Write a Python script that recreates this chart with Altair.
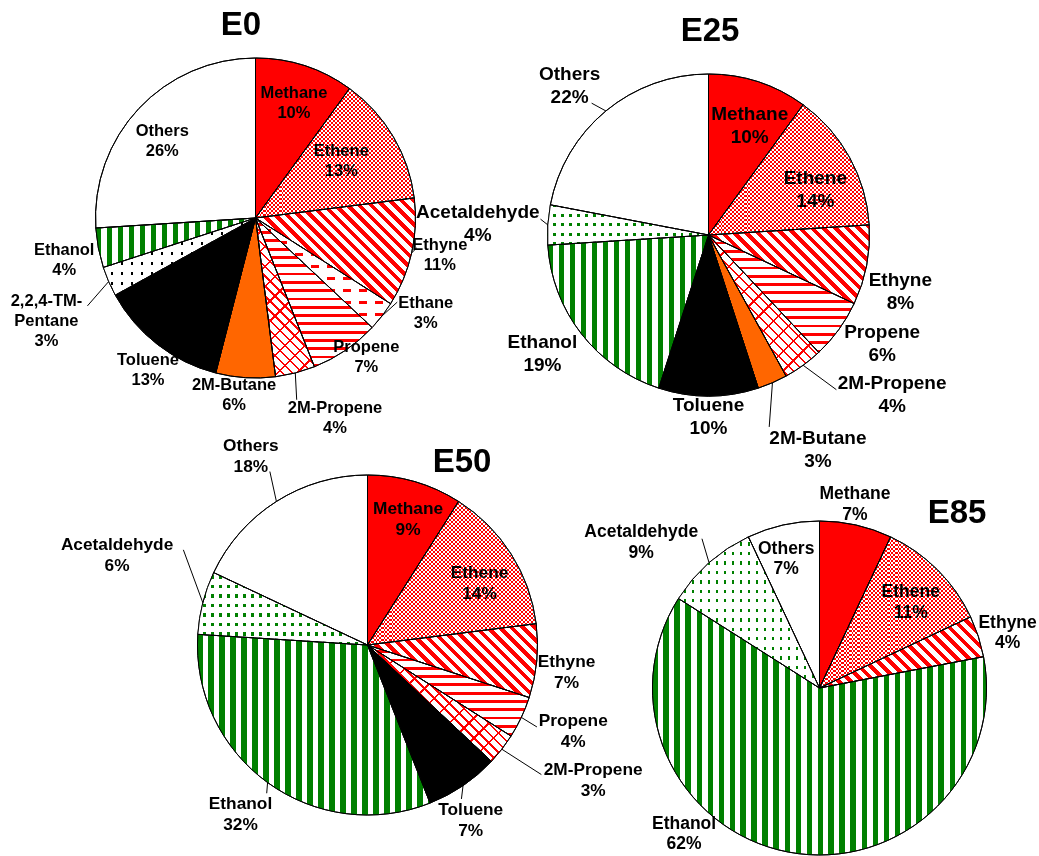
import math

import altair as alt
import pandas as pd

# ---------------------------------------------------------------- data
PIE_NAMES = ["E0", "E25", "E50", "E85"]

E0_SPECIES = ["Methane", "Ethene", "Ethyne", "Ethane", "Propene", "2M-Propene",
              "2M-Butane", "Toluene", "2,2,4-TM-Pentane", "Ethanol", "Others"]
E0_SHARES = [10, 13, 11, 3, 7, 4, 6, 13, 3, 4, 26]

E25_SPECIES = ["Methane", "Ethene", "Ethyne", "Propene", "2M-Propene", "2M-Butane",
               "Toluene", "Ethanol", "Acetaldehyde", "Others"]
E25_SHARES = [10, 14, 8, 6, 4, 3, 10, 19, 4, 22]

E50_SPECIES = ["Methane", "Ethene", "Ethyne", "Propene", "2M-Propene", "Toluene",
               "Ethanol", "Acetaldehyde", "Others"]
E50_SHARES = [9, 14, 7, 4, 3, 7, 32, 6, 18]

E85_SPECIES = ["Methane", "Ethene", "Ethyne", "Ethanol", "Acetaldehyde", "Others"]
E85_SHARES = [7, 11, 4, 62, 9, 7]

SERIES = {
    "E0": (E0_SPECIES, E0_SHARES),
    "E25": (E25_SPECIES, E25_SHARES),
    "E50": (E50_SPECIES, E50_SHARES),
    "E85": (E85_SPECIES, E85_SHARES),
}

# how a species name is broken over lines in its label
LABEL_NAME = {"2,2,4-TM-Pentane": "2,2,4-TM-\nPentane"}

# ---------------------------------------------------------------- layout
FONT = "Liberation Sans"
PIE_LAYOUT = {
    "E0": dict(cx=255.5, cy=218, r=160, font=16.5, line=20, tx=241, ty=35),
    "E25": dict(cx=708.5, cy=235, r=161, font=19, line=23, tx=710, ty=41),
    "E50": dict(cx=367.5, cy=645, r=170, font=17.3, line=21, tx=462, ty=472),
    "E85": dict(cx=819.5, cy=688, r=167, font=17.5, line=20.5, tx=957, ty=523),
}

# label distance from the pie centre (px) and angular nudge (deg) from the slice middle
LABEL_PLACE = {
    "E0": {"Methane": (121, 0.5), "Ethene": (103, -3), "Ethyne": (188, -1.3),
           "Ethane": (195, -8.6), "Propene": (178, -4.3), "2M-Propene": (215, -7.3),
           "2M-Butane": (178, 3.3), "Toluene": (186, -2.5),
           "2,2,4-TM-Pentane": (233, -2.8), "Ethanol": (196, -1.7), "Others": (121, -3.6)},
    "E25": {"Methane": (117, 2.6), "Ethene": (116, 5.9), "Ethyne": (200, 5.6),
            "Propene": (205, -3.9), "2M-Propene": (243, -13.1), "2M-Butane": (241, -3.6),
            "Toluene": (181, 0), "Ethanol": (204, 2.3), "Acetaldehyde": (231, -0.7),
            "Others": (204, -3.3)},
    "E50": {"Methane": (132, 1.7), "Ethene": (128, 3.5), "Ethyne": (201, 2.5),
            "Propene": (223, -2.5), "2M-Propene": (263, -6.9), "Toluene": (204, 3.8),
            "Ethanol": (212, 0.8), "Acetaldehyde": (266, 5.3), "Others": (222, 0.7)},
    "E85": {"Methane": (187, -1.7), "Ethene": (125, 1.9), "Ethyne": (196, 1.7),
            "Ethanol": (199, 32.1), "Acetaldehyde": (230, -9.4), "Others": (133, -1.9)},
}

# leader lines: from the rim at the slice middle to the label anchor plus this offset
LEADER_END = {
    ("E0", "Ethyne"): (-23, -7), ("E0", "Ethane"): (-28.5, -11),
    ("E0", "2,2,4-TM-Pentane"): (41, -15), ("E0", "2M-Propene"): (-38.3, -18),
    ("E25", "Others"): (22, 17.6), ("E25", "Acetaldehyde"): (62.7, -4.2),
    ("E25", "2M-Propene"): (-55.8, -4.4), ("E25", "2M-Butane"): (-48.7, -22.8),
    ("E50", "Others"): (19, 15.4), ("E50", "Acetaldehyde"): (66.3, -5.5),
    ("E50", "Propene"): (-36.3, -4.1), ("E50", "2M-Propene"): (-51.8, -5.5),
    ("E50", "Ethanol"): (26.2, -21.5), ("E50", "Toluene"): (-9.3, -22),
    ("E85", "Acetaldehyde"): (60.7, -3.9),
}

# ---------------------------------------------------------------- styles
RED = "#ff0000"
GREEN = "#008000"
ORANGE = "#ff6600"
WHITE = "#ffffff"
CLEAR = "rgba(255,255,255,0)"

ALL_SPECIES = ["Methane", "Ethene", "Ethyne", "Ethane", "Propene", "2M-Propene",
               "2M-Butane", "Toluene", "2,2,4-TM-Pentane", "Ethanol", "Acetaldehyde", "Others"]
BASE_FILL = {"Methane": RED, "2M-Butane": ORANGE, "Toluene": "#000000"}

# stripe layers laid over the white base: direction of the stripes, period (px),
# covered fraction of each period, colour and blend mode
PATTERNS = {
    "Ethene": [dict(dir=(1, 0), period=4, cover=0.5, color="#00ffff", blend="difference"),
               dict(dir=(0, 1), period=4, cover=0.5, color="#00ffff", blend="difference")],
    "Ethyne": [dict(dir=(1, 1), period=8.3, cover=0.48, color=RED)],
    "Ethane": [dict(dir=(1, 0), period=12, cover=0.22, color=RED),
               dict(dir=(0, 1), period=16, cover=0.5, color=WHITE)],
    "Propene": [dict(dir=(1, 0), period=8.3, cover=0.34, color=RED)],
    "2M-Propene": [dict(dir=(1, 1), period=7, cover=0.24, color=RED),
                   dict(dir=(1, -1), period=14, cover=0.12, color=RED)],
    "2,2,4-TM-Pentane": [dict(dir=(1, 0), period=10, cover=0.3, color="#000000"),
                         dict(dir=(0, 1), period=10, cover=0.76, color=WHITE)],
    "Ethanol": [dict(dir=(0, 1), period=11, cover=0.5, color=GREEN)],
    "Acetaldehyde": [dict(dir=(1, 0), period=9.5, cover=0.32, color=GREEN),
                     dict(dir=(0, 1), period=8, cover=0.68, color=WHITE)],
}


def sector_size(r, a0, a1):
    """Width and height of the bounding box of a pie sector (angles in degrees)."""
    angs = [a0, a1] + [k * 90 for k in range(5) if a0 < k * 90 < a1]
    pts = [(0.0, 0.0)] + [(r * math.sin(math.radians(a)), -r * math.cos(math.radians(a)))
                          for a in angs]
    xs = [p[0] for p in pts]
    ys = [p[1] for p in pts]
    return max(max(xs) - min(xs), 1.0), max(max(ys) - min(ys), 1.0)


def stripe_fill(w, h, layer):
    """Linear gradient with hard stops that paints parallel stripes in the item's box."""
    dx, dy = layer["dir"]
    gx, gy = dy / h, -dx / w
    n = math.hypot(gx, gy)
    gx, gy = gx / n, gy / n
    proj = [px * gx + py * gy for px, py in ((0, 0), (1, 0), (0, 1), (1, 1))]
    t0, t1 = min(proj), max(proj)
    length = (t1 - t0) / math.hypot(gx / w, gy / h)
    periods = length / layer["period"]
    color = layer["color"]
    stops = [(0.0, CLEAR)]
    k = 0
    while k < periods:
        o0 = k / periods
        o1 = min((k + layer["cover"]) / periods, 1.0)
        stops += [(o0, CLEAR), (o0, color), (o1, color), (o1, CLEAR)]
        k += 1
    stops.append((1.0, CLEAR))
    return alt.LinearGradient(
        gradient="linear",
        x1=round(gx * t0, 6), y1=round(gy * t0, 6),
        x2=round(gx * t1, 6), y2=round(gy * t1, 6),
        stops=[alt.GradientStop(offset=round(o, 6), color=c) for o, c in stops],
    )


# ---------------------------------------------------------------- table
rows = []
for pie in PIE_NAMES:
    names, shares = SERIES[pie]
    lay = PIE_LAYOUT[pie]
    for i, (name, share) in enumerate(zip(names, shares)):
        lab_r, lab_shift = LABEL_PLACE[pie][name]
        lead = LEADER_END.get((pie, name))
        text = f"{LABEL_NAME.get(name, name)}\n{share}%"
        rows.append(dict(
            pie=pie, name=name, share=share, order=i,
            label=text, lines=text.count("\n") + 1,
            cx=lay["cx"], cy=lay["cy"], r=lay["r"],
            lab_r=lab_r, lab_shift=lab_shift,
            leader=lead is not None,
            lead_dx=lead[0] if lead else 0, lead_dy=lead[1] if lead else 0,
        ))
df = pd.DataFrame(rows)

base = alt.Chart(df).transform_stack(
    stack="share", groupby=["pie"], as_=["v0", "v1"],
    sort=[alt.SortField("order", order="ascending")],
)

arc_enc = dict(
    x=alt.X("cx:Q", scale=None, axis=None),
    y=alt.Y("cy:Q", scale=None, axis=None),
    theta=alt.Theta("v0:Q", scale=alt.Scale(domain=[0, 100])),
    theta2="v1:Q",
    radius=alt.Radius("r:Q", scale=None),
)

layers = []

# plain slices
layers.append(base.mark_arc(stroke="black", strokeWidth=1).encode(
    fill=alt.Fill("name:N", legend=None, scale=alt.Scale(
        domain=ALL_SPECIES, range=[BASE_FILL.get(s, WHITE) for s in ALL_SPECIES])),
    **arc_enc,
))

# hatch and dot patterns, one gradient per slice
for pie in PIE_NAMES:
    names, shares = SERIES[pie]
    r = PIE_LAYOUT[pie]["r"]
    start = 0
    for name, share in zip(names, shares):
        a0, a1 = start * 3.6, (start + share) * 3.6
        start += share
        if name not in PATTERNS:
            continue
        w, h = sector_size(r, a0, a1)
        for layer in PATTERNS[name]:
            mark_kw = dict(fill=stripe_fill(w, h, layer), strokeWidth=0)
            if "blend" in layer:
                mark_kw["blend"] = layer["blend"]
            layers.append(
                base.transform_filter(f"datum.pie == '{pie}' && datum.name == '{name}'")
                .mark_arc(**mark_kw).encode(**arc_enc)
            )

# slice outlines on top of the patterns
layers.append(base.mark_arc(fill=WHITE, fillOpacity=0, stroke="black", strokeWidth=1)
              .encode(**arc_enc))

placed = base.transform_calculate(
    mid="(datum.v0 + datum.v1) / 2",
).transform_calculate(
    ang="(datum.mid * 3.6 + datum.lab_shift) * PI / 180",
    rim="datum.mid * 3.6 * PI / 180",
).transform_calculate(
    lx="datum.cx + datum.lab_r * sin(datum.ang)",
    ly="datum.cy - datum.lab_r * cos(datum.ang)",
    sx="datum.cx + datum.r * sin(datum.rim)",
    sy="datum.cy - datum.r * cos(datum.rim)",
)

# leader lines
layers.append(
    placed.transform_filter("datum.leader").transform_calculate(
        ex="datum.lx + datum.lead_dx", ey="datum.ly + datum.lead_dy",
    ).mark_rule(color="black", strokeWidth=1).encode(
        x=alt.X("sx:Q", scale=None, axis=None), y=alt.Y("sy:Q", scale=None, axis=None),
        x2="ex:Q", y2="ey:Q",
    )
)

# slice labels, one text style per pie; the first line is lifted so the block is centred
for pie in PIE_NAMES:
    lay = PIE_LAYOUT[pie]
    layers.append(
        placed.transform_filter(f"datum.pie == '{pie}'").transform_calculate(
            ty=f"datum.ly - (datum.lines - 1) * {lay['line']} / 2",
        ).mark_text(
            font=FONT, fontWeight="bold", fontSize=lay["font"], lineHeight=lay["line"],
            lineBreak="\n", align="center", baseline="middle", color="black",
        ).encode(
            x=alt.X("lx:Q", scale=None, axis=None), y=alt.Y("ty:Q", scale=None, axis=None),
            text="label:N",
        )
    )

# pie titles
titles = pd.DataFrame({
    "pie": PIE_NAMES,
    "tx": [PIE_LAYOUT[p]["tx"] for p in PIE_NAMES],
    "ty": [PIE_LAYOUT[p]["ty"] for p in PIE_NAMES],
})
layers.append(
    alt.Chart(titles).mark_text(
        font=FONT, fontWeight="bold", fontSize=33, align="center", baseline="alphabetic",
        color="black",
    ).encode(
        x=alt.X("tx:Q", scale=None, axis=None), y=alt.Y("ty:Q", scale=None, axis=None),
        text="pie:N",
    )
)

chart = alt.layer(*layers).properties(
    width=1039, height=856, padding=0, autosize="none", background="white",
).configure_view(stroke=None)

chart.save("out.html", embed_options={"renderer": "svg", "actions": False})
